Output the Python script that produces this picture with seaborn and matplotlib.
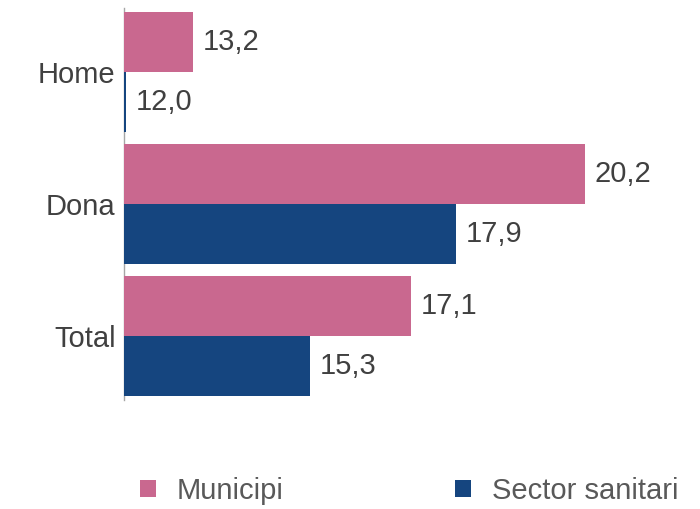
import pandas as pd
import matplotlib
matplotlib.use("Agg")
import matplotlib.pyplot as plt
from matplotlib.patches import Patch
import seaborn as sns

# Data
categories = ["Home", "Dona", "Total"]
municipi = [13.2, 20.2, 17.1]
sector = [12.0, 17.9, 15.3]
series_names = ["Municipi", "Sector sanitari"]
colors = ["#C9688F", "#15457F"]

df = pd.DataFrame({
    "grup": categories * 2,
    "valor": municipi + sector,
    "serie": [series_names[0]] * 3 + [series_names[1]] * 3,
})

sns.set_theme(style="white")
plt.rcParams["font.family"] = ["Liberation Sans", "DejaVu Sans"]

fig = plt.figure(figsize=(7, 5.09), dpi=100)
ax = fig.add_axes([124 / 700, 1 - 400 / 509, 576 / 700, 392 / 509])

sns.barplot(data=df, y="grup", x="valor", hue="serie", order=categories,
            hue_order=series_names, palette=colors, orient="h",
            width=0.91, saturation=1, linewidth=0, ax=ax, legend=False)

ax.set_xlim(11.97, 11.97 + 576 / 56)
ax.set_ylim(2.485, -0.485)

# value labels at the end of each bar
for cont in ax.containers:
    labels = [f"{w:.1f}".replace(".", ",") for w in cont.datavalues]
    ax.bar_label(cont, labels=labels, padding=7, fontsize=21, color="#404040")

ax.set_xlabel("")
ax.set_ylabel("")
ax.set_xticks([])
ax.tick_params(axis="y", length=0, pad=6, labelsize=21, labelcolor="#404040")
for s in ["top", "right", "bottom"]:
    ax.spines[s].set_visible(False)
ax.spines["left"].set_color("#A6A6A6")
ax.spines["left"].set_linewidth(1)
ax.spines["left"].set_zorder(0)

handles = [Patch(facecolor=c, edgecolor="none") for c in colors]
fig.legend(handles, series_names, loc="center left",
           bbox_to_anchor=(140 / 700, 1 - 491 / 509), ncol=2, frameon=False,
           fontsize=21, labelcolor="#595959", handlelength=0.55,
           handleheight=0.55, handletextpad=0.7, columnspacing=5.9,
           borderpad=0, borderaxespad=0)

fig.savefig("out.png", dpi=100)
